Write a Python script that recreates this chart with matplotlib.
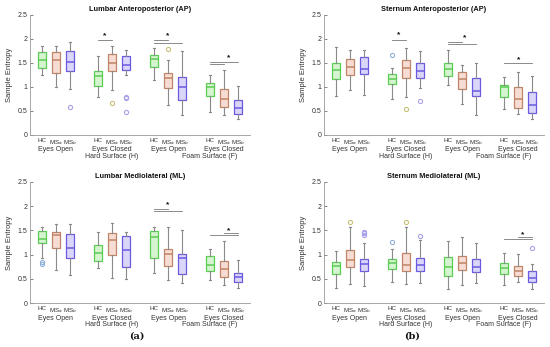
import matplotlib
matplotlib.use("Agg")
import matplotlib.pyplot as plt
from matplotlib.ticker import FixedLocator, FixedFormatter

plt.rcParams['font.family'] = ['Liberation Sans', 'DejaVu Sans']

W, H = 550, 347

groups = ["HC", "MS$_a$", "MS$_b$"]
conditions = ["Eyes Open", "Eyes Closed", "Eyes Open", "Eyes Closed"]
surfaces = ["Hard Surface (H)", "Foam Surface (F)"]
titles = ["Lumbar Anteroposterior (AP)", "Sternum Anteroposterior (AP)",
          "Lumbar Mediolateral (ML)", "Sternum Mediolateral (ML)"]
yticks = [0, 0.5, 1, 1.5, 2, 2.5]
yticklabels = ["0", "0.5", "1", "1.5", "2", "2.5"]

# box order: HC, MSa, MSb for each of 4 conditions
# Lumbar AP
lap_lo  = [1.25, 0.99, 0.95, 0.79, 0.94, 1.26, 1.15, 0.62, 0.42, 0.47, 0.42, 0.33]
lap_q1  = [1.39, 1.30, 1.34, 1.03, 1.33, 1.35, 1.42, 0.97, 0.72, 0.81, 0.58, 0.43]
lap_med = [1.56, 1.56, 1.53, 1.22, 1.51, 1.45, 1.58, 1.19, 0.99, 1.00, 0.76, 0.56]
lap_q3  = [1.72, 1.72, 1.75, 1.33, 1.68, 1.65, 1.66, 1.30, 1.20, 1.08, 0.95, 0.73]
lap_hi  = [1.86, 1.86, 1.94, 1.65, 1.86, 1.77, 1.81, 1.56, 1.75, 1.26, 1.35, 1.03]
lap_out = [[], [], [0.58], [], [0.67], [0.80, 0.77, 0.48], [], [1.80], [], [], [], []]
lap_sig = [(5, 6, 1.97), (9, 10, 1.97), (9, 11, 1.92), (13, 15, 1.53), (13, 14, 1.48)]
lap_star = [(5.5, 2.06), (10.0, 2.06), (14.3, 1.62)]

# Sternum AP
sap_lo  = [0.82, 0.94, 0.83, 0.74, 0.80, 0.98, 1.05, 0.64, 0.41, 0.54, 0.43, 0.34]
sap_q1  = [1.17, 1.25, 1.28, 1.06, 1.18, 1.19, 1.23, 0.96, 0.81, 0.80, 0.57, 0.45]
sap_med = [1.36, 1.41, 1.38, 1.17, 1.40, 1.33, 1.37, 1.17, 0.92, 1.01, 0.76, 0.62]
sap_q3  = [1.49, 1.59, 1.63, 1.28, 1.56, 1.49, 1.51, 1.31, 1.18, 1.05, 1.00, 0.90]
sap_hi  = [1.84, 1.78, 1.78, 1.40, 1.81, 1.76, 1.78, 1.46, 1.50, 1.20, 1.31, 1.23]
sap_out = [[], [], [], [1.66], [0.55], [0.71], [], [], [], [], [], []]
sap_sig = [(5, 6, 1.97), (9, 10, 1.94), (9, 11, 1.90), (13, 15, 1.49)]
sap_star = [(5.5, 2.08), (10.2, 2.03), (14.0, 1.56)]

# Lumbar ML
lml_lo  = [0.93, 0.69, 0.58, 0.73, 0.52, 0.49, 0.62, 0.47, 0.42, 0.47, 0.38, 0.32]
lml_q1  = [1.23, 1.13, 0.92, 0.87, 1.00, 0.74, 0.94, 0.76, 0.60, 0.66, 0.53, 0.44]
lml_med = [1.33, 1.40, 1.13, 1.04, 1.30, 1.09, 1.36, 1.02, 0.92, 0.79, 0.70, 0.54]
lml_q3  = [1.48, 1.47, 1.43, 1.20, 1.44, 1.39, 1.48, 1.12, 1.01, 0.98, 0.86, 0.63]
lml_hi  = [1.56, 1.64, 1.63, 1.46, 1.65, 1.47, 1.58, 1.56, 1.50, 1.12, 1.28, 0.88]
lml_out = [[0.84, 0.80], [], [], [], [], [], [], [], [], [], [], []]
lml_sig = [(9, 10, 1.95), (9, 11, 1.90), (14, 15, 1.44), (13, 15, 1.40)]
lml_star = [(10.0, 2.04), (14.3, 1.50)]

# Sternum ML
sml_lo  = [0.30, 0.40, 0.35, 0.44, 0.39, 0.42, 0.28, 0.37, 0.42, 0.38, 0.44, 0.28]
sml_q1  = [0.60, 0.75, 0.66, 0.70, 0.66, 0.66, 0.56, 0.69, 0.64, 0.59, 0.55, 0.43]
sml_med = [0.76, 0.89, 0.80, 0.82, 0.78, 0.78, 0.74, 0.83, 0.75, 0.73, 0.67, 0.51]
sml_q3  = [0.84, 1.09, 0.91, 0.91, 1.04, 0.93, 0.96, 0.97, 0.90, 0.83, 0.77, 0.67]
sml_hi  = [1.07, 1.56, 1.23, 1.11, 1.58, 1.30, 1.28, 1.37, 1.25, 1.04, 1.02, 0.80]
sml_out = [[], [1.68], [1.47, 1.44, 1.40], [1.27], [1.68], [1.38], [], [], [], [], [], [1.13]]
sml_sig = [(14, 15, 1.36), (13, 15, 1.32)]
sml_star = [(14.3, 1.41)]

panels = [
    (lap_lo, lap_q1, lap_med, lap_q3, lap_hi, lap_out, lap_sig, lap_star),
    (sap_lo, sap_q1, sap_med, sap_q3, sap_hi, sap_out, sap_sig, sap_star),
    (lml_lo, lml_q1, lml_med, lml_q3, lml_hi, lml_out, lml_sig, lml_star),
    (sml_lo, sml_q1, sml_med, sml_q3, sml_hi, sml_out, sml_sig, sml_star),
]

positions = [1, 2, 3, 5, 6, 7, 9, 10, 11, 13, 14, 15]
edge_cols = ['#5ccc55', '#c08566', '#6a5ae0']
face_cols = ['#d4f5cf', '#f7dcd3', '#d9d6fa']
out_cols = ['#8fb0d8', '#c9c07a', '#a8a2e8']

# axes rectangles in pixels: left, right, top, bottom
rects = [(30, 250, 15, 135), (324, 544, 15, 135),
         (30, 250, 182, 303), (324, 544, 182, 303)]

fig = plt.figure(figsize=(W / 100, H / 100), dpi=100)
fig.patch.set_facecolor('white')

txtcol = '#333333'
for k, (rect, data, title) in enumerate(zip(rects, panels, titles)):
    l, r, t, b = rect
    ax = fig.add_axes([l / W, 1 - b / H, (r - l) / W, (b - t) / H])
    lo, q1, med, q3, hi, outs, sigs, stars = data
    stats = []
    for i in range(12):
        stats.append(dict(whislo=lo[i], q1=q1[i], med=med[i], q3=q3[i],
                          whishi=hi[i], fliers=outs[i]))
    bp = ax.bxp(stats, positions=positions, widths=0.55, patch_artist=True,
                showfliers=True,
                whiskerprops=dict(color='#8a8a8a', lw=0.8),
                capprops=dict(color='#8a8a8a', lw=0.8),
                capwidths=0.18)
    for i in range(12):
        g = i % 3
        bp['boxes'][i].set_facecolor(face_cols[g])
        bp['boxes'][i].set_edgecolor(edge_cols[g])
        bp['boxes'][i].set_linewidth(0.9)
        bp['medians'][i].set_color(edge_cols[g])
        bp['medians'][i].set_linewidth(1.1)
        bp['fliers'][i].set_marker('o')
        bp['fliers'][i].set_markersize(3)
        bp['fliers'][i].set_markeredgecolor(out_cols[g])
        bp['fliers'][i].set_markerfacecolor('none')
        bp['fliers'][i].set_markeredgewidth(0.8)

    for x1, x2, y in sigs:
        ax.plot([x1, x2], [y, y], color='#777777', lw=0.6)
    for x, y in stars:
        ax.text(x, y, '*', ha='center', va='center', fontsize=6,
                fontweight='bold', color='#111111')

    ax.set_xlim(0.16, 15.84)
    ax.set_ylim(0, 2.5)
    ax.yaxis.set_major_locator(FixedLocator(yticks))
    ax.yaxis.set_major_formatter(FixedFormatter(yticklabels))
    ax.set_xticks(positions)
    ax.set_xticklabels(groups * 4)
    ax.tick_params(axis='both', direction='in', length=2, width=0.5,
                   colors='#555555', labelsize=5, labelcolor=txtcol, pad=2)
    ax.tick_params(axis='x', length=0, pad=2, labelsize=4.5)
    for s in ['top', 'right']:
        ax.spines[s].set_visible(False)
    for s in ['left', 'bottom']:
        ax.spines[s].set_color('#999999')
        ax.spines[s].set_linewidth(0.6)
    ax.set_ylabel('Sample Entropy', fontsize=5.5, color=txtcol, labelpad=3)
    ax.set_title(title, fontsize=5.3, fontweight='bold', color='#111111', pad=3)

    for c, cond in enumerate(conditions):
        ax.text(positions[3 * c + 1], -0.31, cond, ha='center', va='center',
                fontsize=5, color=txtcol, clip_on=False)
    ax.text(6, -0.445, surfaces[0], ha='center', va='center', fontsize=5,
            color=txtcol, clip_on=False)
    ax.text(13.0, -0.445, surfaces[1], ha='center', va='center', fontsize=5,
            color=txtcol, clip_on=False)

fig.text(137 / W, 1 - 336 / H, '(a)', ha='center', va='center', fontsize=7,
         family='DejaVu Serif', fontweight='bold', color='#111111')
fig.text(412 / W, 1 - 336 / H, '(b)', ha='center', va='center', fontsize=7,
         family='DejaVu Serif', fontweight='bold', color='#111111')

fig.savefig('out.png', dpi=100, facecolor='white')
